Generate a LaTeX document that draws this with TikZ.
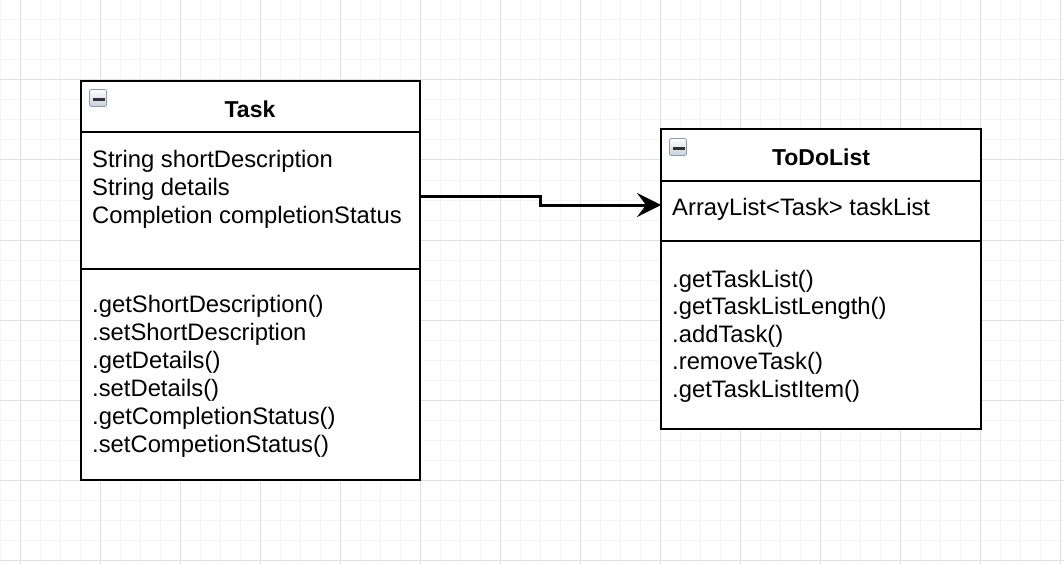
\documentclass[tikz,border=0pt]{standalone}
\usepackage{fontspec}
\setmainfont{Liberation Sans}
\usetikzlibrary{arrows.meta}
\definecolor{gridminor}{RGB}{244,244,244}
\definecolor{gridmajor}{RGB}{224,224,224}
\definecolor{iconedge}{RGB}{140,155,175}
\definecolor{iconlow}{RGB}{200,208,218}
\definecolor{iconbar}{RGB}{50,50,50}
\begin{document}
\begin{tikzpicture}[x=1pt,y=-1pt,
  minorline/.style={draw=gridminor,line width=1pt},
  majorline/.style={draw=gridmajor,line width=1pt},
  classbox/.style={draw=black,line width=2pt,fill=white,anchor=north west,inner sep=0pt,outer sep=0pt},
  sepline/.style={draw=black,line width=2pt},
  txt/.style={anchor=base west,inner sep=0pt,font=\fontsize{23.8}{28}\selectfont},
  ttl/.style={anchor=base,inner sep=0pt,font=\fontsize{23}{28}\selectfont\bfseries},
  iconframe/.style={draw=iconedge,line width=0.8pt,rounded corners=2pt,top color=white,bottom color=iconlow},
  iconminus/.style={fill=iconbar},
  conn/.style={draw=black,line width=3pt,-{Stealth[length=24pt 0,width=24pt 0,inset=9pt 0]}}]
\useasboundingbox (0,0) rectangle (1064,564);
\fill[white] (0,0) rectangle (1064,564);
% grid
\foreach \x in {0,20,...,1060} \draw[minorline] (\x,0) -- (\x,564);
\foreach \y in {0,20,...,560} \draw[minorline] (0,\y) -- (1064,\y);
\foreach \x in {20,100,...,1060} \draw[majorline] (\x,0) -- (\x,564);
\foreach \y in {0,80,...,560} \draw[majorline] (0,\y) -- (1064,\y);
% Task class
\node[classbox,minimum width=339pt,minimum height=399pt] (task) at (81,81) {};
\draw[sepline] ([yshift=-51pt]task.north west) -- ([yshift=-51pt]task.north east);
\draw[sepline] ([yshift=-188pt]task.north west) -- ([yshift=-188pt]task.north east);
\draw[iconframe] (89.5,89.5) rectangle (106.5,106.5);
\fill[iconminus] (93,98) rectangle (104.5,101);
\node[ttl] (tasktitle) at (250,118) {Task};
\foreach \t [count=\i] in {String shortDescription,String details,Completion completionStatus}
  \node[txt] (taskattr\i) at (92,{167.5+27.8*(\i-1)}) {\t};
\foreach \t [count=\i] in {.getShortDescription(),.setShortDescription,.getDetails(),.setDetails(),.getCompletionStatus(),.setCompetionStatus()}
  \node[txt] (taskop\i) at (92,{312+28*(\i-1)}) {\t};
% ToDoList class
\node[classbox,minimum width=320pt,minimum height=299.5pt] (todo) at (661,129) {};
\draw[sepline] ([yshift=-52pt]todo.north west) -- ([yshift=-52pt]todo.north east);
\draw[sepline] ([yshift=-112pt]todo.north west) -- ([yshift=-112pt]todo.north east);
\draw[iconframe] (669.5,138.5) rectangle (686.5,155.5);
\fill[iconminus] (673,147) rectangle (684.5,150);
\node[ttl] (todotitle) at (821,166) {ToDoList};
\node[txt] (todoattr1) at (672,215) {ArrayList<Task> taskList};
\foreach \t [count=\i] in {.getTaskList(),.getTaskListLength(),.addTask(),.removeTask(),.getTaskListItem()}
  \node[txt] (todoop\i) at (672,{287+27.5*(\i-1)}) {\t};
% association
\draw[conn] ([yshift=-115pt]task.north east) -- ++(120,0) |- ([yshift=-76pt]todo.north west);
\end{tikzpicture}
\end{document}
